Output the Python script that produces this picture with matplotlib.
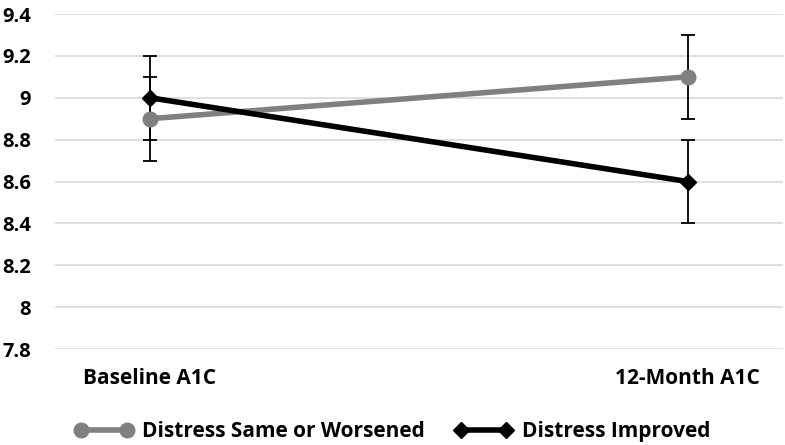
import matplotlib
matplotlib.use("Agg")
import matplotlib.pyplot as plt

categories = ["Baseline A1C", "12-Month A1C"]
same_worse = [8.9, 9.1]
same_worse_err = [0.2, 0.2]
improved = [9.0, 8.6]
improved_err = [0.2, 0.2]
series_names = ["Distress Same or Worsened", "Distress Improved"]
yticks = [7.8, 8, 8.2, 8.4, 8.6, 8.8, 9, 9.2, 9.4]
ytick_labels = ["7.8", "8", "8.2", "8.4", "8.6", "8.8", "9", "9.2", "9.4"]

plt.rcParams['font.family'] = ['Open Sans', 'DejaVu Sans']
plt.rcParams['font.weight'] = 'bold'

fig = plt.figure(figsize=(7.85, 4.45), dpi=100)
ax = fig.add_axes([0.070, 0.2157, 0.927, 0.7528])

x = list(range(len(categories)))

# error bars first so markers sit on top
ax.errorbar(x, same_worse, yerr=same_worse_err, fmt='none', ecolor='black',
            elinewidth=1.3, capsize=5, capthick=1.3, zorder=2)
ax.errorbar(x, improved, yerr=improved_err, fmt='none', ecolor='black',
            elinewidth=1.3, capsize=5, capthick=1.3, zorder=2)

ax.plot(x, same_worse, color='#808080', lw=4, marker='o', markersize=10.5,
        label=series_names[0], zorder=3)
ax.plot(x, improved, color='black', lw=4, marker='D', markersize=8,
        label=series_names[1], zorder=4)

ax.set_ylim(7.8, 9.4)
ax.set_yticks(yticks)
ax.set_yticklabels(ytick_labels)
ax.set_xlim(-0.1766, 1.1766)
ax.set_xticks(x)
ax.set_xticklabels(categories)

ax.grid(axis='y', color='#d9d9d9', lw=1.2)
ax.set_axisbelow(True)
for s in ax.spines.values():
    s.set_visible(False)
ax.tick_params(axis='y', length=0, pad=17, labelsize=14.5)
ax.tick_params(axis='x', length=0, pad=14, labelsize=15)

fig.legend(loc='lower center', bbox_to_anchor=(0.5, -0.035), ncol=2,
           frameon=False, numpoints=2, handlelength=2.8, columnspacing=1.4,
           handletextpad=0.45, prop={'size': 15, 'weight': 'bold'})

fig.savefig("out.png", dpi=100)
